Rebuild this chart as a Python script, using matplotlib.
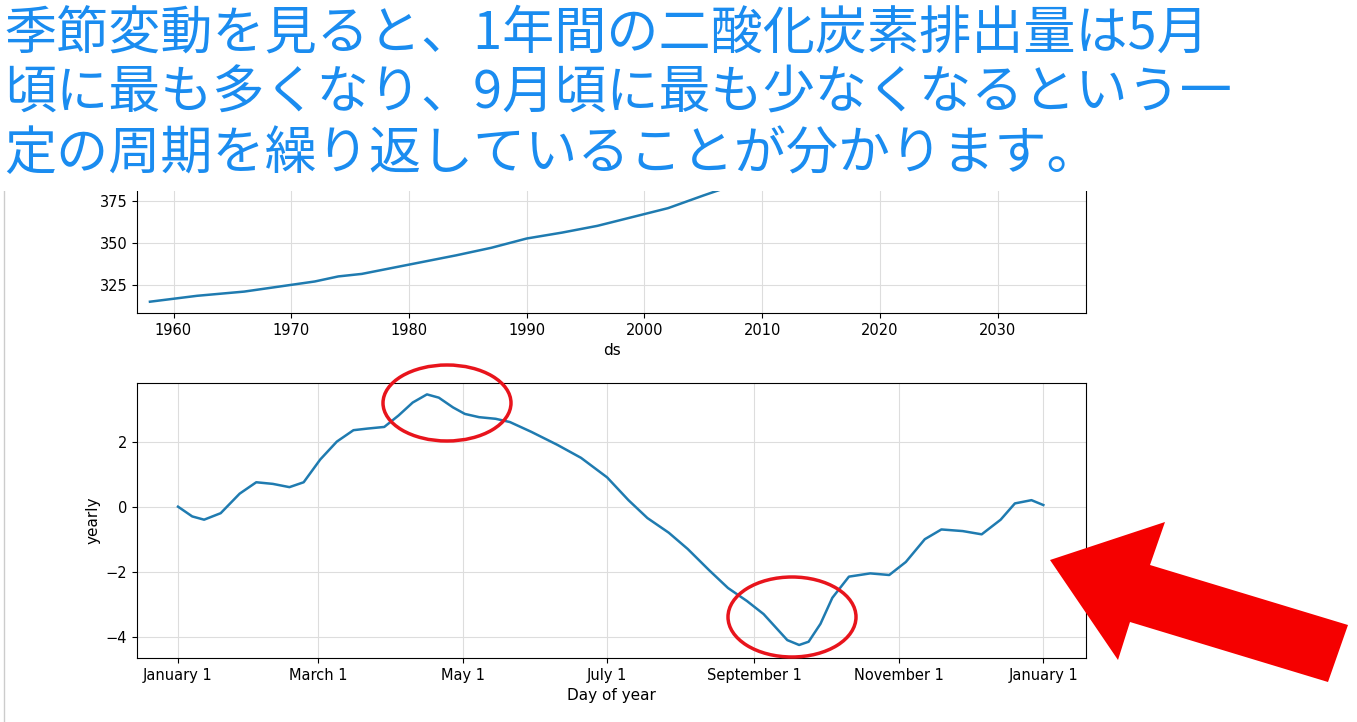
import numpy as np
import matplotlib.pyplot as plt
from matplotlib.patches import Ellipse, Polygon, Rectangle

plt.rcParams['font.family'] = ['DejaVu Sans']

# trend panel
trend_year = [1958, 1962, 1966, 1970, 1972, 1974, 1976, 1980, 1984, 1987, 1990, 1993, 1996, 2000, 2002, 2005, 2010, 2020, 2030, 2035]
trend_val = [315, 318.5, 321, 325, 327, 330, 331.5, 337, 342.5, 347, 352.5, 356, 360, 367, 370.5, 378, 390, 412, 434, 445]

# yearly seasonality panel (day of year, value)
doy = [0, 6, 11, 18, 26, 33, 40, 47, 53, 60, 67, 74, 80, 87, 93, 99, 105, 110, 116, 121, 127, 134, 140, 149, 160,
       170, 181, 190, 198, 207, 215, 224, 232, 240, 247, 252, 257, 262, 266, 271, 276, 283, 292, 300, 307, 315,
       322, 331, 339, 347, 353, 360, 365]
yearly = [0.0, -0.3, -0.4, -0.2, 0.4, 0.75, 0.7, 0.6, 0.75, 1.45, 2.0, 2.35, 2.4, 2.45, 2.8, 3.2, 3.45, 3.35, 3.05, 2.85,
          2.75, 2.7, 2.6, 2.3, 1.9, 1.5, 0.9, 0.2, -0.35, -0.8, -1.3, -1.95, -2.5, -2.9, -3.3, -3.7, -4.1, -4.25, -4.15,
          -3.6, -2.8, -2.15, -2.05, -2.1, -1.7, -1.0, -0.7, -0.75, -0.85, -0.4, 0.1, 0.2, 0.05]
month_ticks = [0, 59, 120, 181, 243, 304, 365]
month_labels = ['January 1', 'March 1', 'May 1', 'July 1', 'September 1', 'November 1', 'January 1']

W, H = 1357, 722
fig = plt.figure(figsize=(W / 100, H / 100), dpi=100)
line_c = '#1f7bb0'

def box(l, t, r, b):
    return [l / W, 1 - b / H, (r - l) / W, (b - t) / H]

ax1 = fig.add_axes(box(137, 150, 1086, 313))
ax1.plot(trend_year, trend_val, color=line_c, lw=1.8)
ax1.set_xlim(1956.9, 2037.5)
ax1.set_ylim(308.3, 405)
ax1.set_yticks([325, 350, 375])
ax1.set_xticks(range(1960, 2031, 10))
ax1.set_xlabel('ds', fontsize=11)
ax1.grid(color='#dddddd', lw=0.8)
ax1.tick_params(labelsize=10.5)

ax2 = fig.add_axes(box(137, 383, 1086, 658))
ax2.plot(doy, yearly, color=line_c, lw=1.8)
ax2.set_xlim(-17.3, 383)
ax2.set_ylim(-4.65, 3.8)
ax2.set_yticks([-4, -2, 0, 2])
ax2.set_xticks(month_ticks)
ax2.set_xticklabels(month_labels)
ax2.set_xlabel('Day of year', fontsize=11)
ax2.set_ylabel('yearly', fontsize=11)
ax2.grid(color='#dddddd', lw=0.8)
ax2.tick_params(labelsize=10.5)

# screenshot overlays
fig.add_artist(Rectangle((0, 1 - 191 / H), 1090 / W, 191 / H, transform=fig.transFigure,
                         fc='white', ec='none', zorder=10))
sub = ['季節変動を見ると、1年間の二酸化炭素排出量は5月',
       '頃に最も多くなり、9月頃に最も少なくなるという一',
       '定の周期を繰り返していることが分かります。']
for i, s in enumerate(sub):
    fig.text(4 / W, 1 - (34 + 60 * i) / H, s, fontsize=37.5, color='#1a8cf0', zorder=11,
             family=['Noto Sans CJK JP', 'DejaVu Sans'], va='center')

fig.add_artist(Ellipse((447 / W, 1 - 403 / H), 128 / W, 76 / H, transform=fig.transFigure,
                       fill=False, ec='#e8141c', lw=2.5))
fig.add_artist(Ellipse((792 / W, 1 - 617 / H), 128 / W, 80 / H, transform=fig.transFigure,
                       fill=False, ec='#e8141c', lw=2.5))
arrow = [(1050, 560), (1165, 522), (1150, 565), (1348, 625), (1328, 682), (1130, 622), (1118, 660)]
fig.add_artist(Polygon([(x / W, 1 - y / H) for x, y in arrow], closed=True,
                       transform=fig.transFigure, fc='#f50000', ec='none'))
fig.add_artist(plt.Line2D([4 / W, 4 / W], [0, 1 - 191 / H], transform=fig.transFigure, color='#cccccc', lw=1))

fig.savefig('out.png', dpi=100)
